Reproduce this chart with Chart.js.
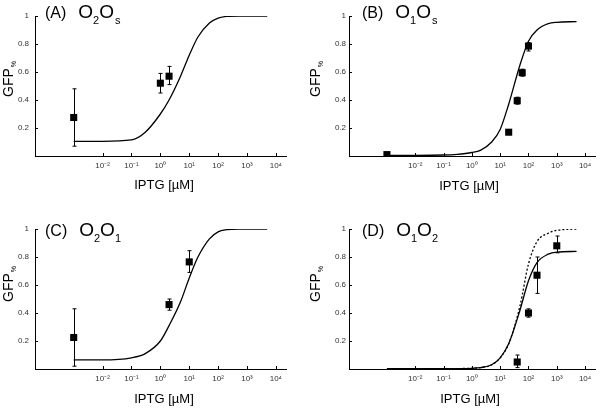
<!DOCTYPE html>
<html>
<head>
<meta charset="utf-8">
<script src="https://cdn.jsdelivr.net/npm/chart.js@4"></script>
<style>
  html, body { margin: 0; padding: 0; background: #fff; overflow: hidden; }
  #wrap { position: relative; width: 600px; height: 410px; }
  canvas { position: absolute; }
</style>
</head>
<body>
<div id="wrap">
  <canvas id="pA" width="300" height="205" style="left:0;top:0"></canvas>
  <canvas id="pB" width="300" height="205" style="left:300px;top:0"></canvas>
  <canvas id="pC" width="300" height="205" style="left:0;top:205px"></canvas>
  <canvas id="pD" width="300" height="205" style="left:300px;top:205px"></canvas>
</div>
<script>
'use strict';

// ejes
const X_TICKS  = [1e-2, 1e-1, 1, 1e1, 1e2, 1e3, 1e4];
const X_LABELS = ['10⁻²', '10⁻¹', '10⁰', '10¹', '10²', '10³', '10⁴'];
const Y_TICKS  = [0.2, 0.4, 0.6, 0.8, 1];
const Y_LABELS = ['0.2', '0.4', '0.6', '0.8', '1'];
const X_MIN = Math.pow(10, -4.34), X_MAX = Math.pow(10, 4.35);

// curvas del modelo
const CURVE_X = [1e-3, 1e-2, 1e-1, 0.3, 1, 2, 5, 10, 20, 50, 100, 200, 500, 1000, 5000];
const A_FIT = [0.105, 0.105, 0.115, 0.17, 0.30, 0.40, 0.57, 0.72, 0.85, 0.95, 0.985, 0.997, 1, 1, 1];
const B_FIT = [0.005, 0.005, 0.007, 0.012, 0.025, 0.04, 0.10, 0.19, 0.37, 0.65, 0.82, 0.90, 0.945, 0.955, 0.96];
const C_FIT = [0.065, 0.065, 0.08, 0.11, 0.20, 0.31, 0.48, 0.65, 0.80, 0.93, 0.98, 0.995, 1, 1, 1];
const D_FIT = [0.002, 0.002, 0.002, 0.003, 0.005, 0.01, 0.03, 0.08, 0.18, 0.42, 0.63, 0.76, 0.82, 0.835, 0.84];
const D_FIT_DOT = [0.002, 0.002, 0.002, 0.003, 0.005, 0.01, 0.03, 0.08, 0.18, 0.45, 0.75, 0.91, 0.97, 0.99, 1.0];

// datos medidos (0 µM IPTG dibujado en 10^-3)
const A_X = [1e-3, 1, 2],            A_Y = [0.275, 0.52, 0.57];
const A_LO = [0.07, 0.45, 0.51],     A_HI = [0.48, 0.59, 0.64];
const B_X = [1e-3, 20, 40, 60, 100], B_Y = [0.01, 0.17, 0.395, 0.595, 0.785];
const B_LO = [null, null, 0.37, 0.57, 0.75], B_HI = [null, null, 0.42, 0.62, 0.81];
const C_X = [1e-3, 2, 10],           C_Y = [0.225, 0.46, 0.765];
const C_LO = [0.02, 0.42, 0.69],     C_HI = [0.43, 0.50, 0.845];
const D_X = [40, 100, 200, 1000],    D_Y = [0.05, 0.40, 0.67, 0.88];
const D_LO = [0.01, 0.37, 0.54, 0.83], D_HI = [0.10, 0.43, 0.80, 0.95];

Chart.defaults.font.family = "'Liberation Sans', Arial, sans-serif";
Chart.defaults.color = '#222';

const pts = (xs, ys) => xs.map((x, i) => ({ x, y: ys[i] }));

// ticks hacia dentro, barras de error y textos
const decor = {
  id: 'decor',
  beforeDatasetsDraw(chart) {
    const ctx = chart.ctx, sx = chart.scales.x, sy = chart.scales.y;
    ctx.save();
    ctx.strokeStyle = '#000';
    ctx.lineWidth = 1;
    chart.data.datasets.forEach(ds => {
      if (!ds.lo) return;
      ds.data.forEach((p, i) => {
        if (ds.lo[i] == null) return;
        const x = Math.round(sx.getPixelForValue(p.x)) + 0.5;
        const y1 = sy.getPixelForValue(ds.lo[i]), y2 = sy.getPixelForValue(ds.hi[i]);
        ctx.beginPath();
        ctx.moveTo(x, y1); ctx.lineTo(x, y2);
        ctx.moveTo(x - 2, y1); ctx.lineTo(x + 2, y1);
        ctx.moveTo(x - 2, y2); ctx.lineTo(x + 2, y2);
        ctx.stroke();
      });
    });
    ctx.restore();
  },
  afterDraw(chart, args, p) {
    const ctx = chart.ctx, sx = chart.scales.x, sy = chart.scales.y;
    const a = chart.chartArea;
    ctx.save();
    ctx.strokeStyle = '#000';
    ctx.lineWidth = 1;
    ctx.beginPath();
    sx.ticks.forEach(t => {
      const x = Math.round(sx.getPixelForValue(t.value)) + 0.5;
      ctx.moveTo(x, a.bottom); ctx.lineTo(x, a.bottom - 3);
    });
    sy.ticks.forEach(t => {
      const y = Math.round(sy.getPixelForValue(t.value)) + 0.5;
      ctx.moveTo(a.left, y); ctx.lineTo(a.left + 3, y);
    });
    ctx.stroke();

    ctx.fillStyle = '#000';
    ctx.textBaseline = 'alphabetic';
    ctx.textAlign = 'left';
    // título del panel
    let x = p.titleX;
    p.title.forEach(([t, size, gap, dy]) => {
      x += gap;
      ctx.font = size + "px 'Liberation Sans', Arial, sans-serif";
      ctx.fillText(t, x, p.titleY + dy);
      x += ctx.measureText(t).width;
    });
    // eje x
    ctx.textAlign = 'center';
    ctx.font = "13px 'Liberation Sans', Arial, sans-serif";
    ctx.fillText('IPTG [µM]', p.xTitleX, p.xTitleY);
    // eje y
    ctx.translate(p.yTitleX, 97);
    ctx.rotate(-Math.PI / 2);
    ctx.textAlign = 'left';
    ctx.font = "14px 'Liberation Sans', Arial, sans-serif";
    ctx.fillText('GFP', 0, 0);
    const w = ctx.measureText('GFP').width;
    ctx.font = "7px 'Liberation Sans', Arial, sans-serif";
    ctx.fillText('%', w + 1, 3);
    ctx.restore();
  }
};

function makePanel(id, p, datasets) {
  return new Chart(document.getElementById(id), {
    type: 'line',
    data: { datasets },
    options: {
      responsive: false, animation: false, devicePixelRatio: 1,
      layout: { padding: { top: p.top, right: p.right, left: 0, bottom: 0 } },
      plugins: { legend: { display: false }, tooltip: { enabled: false }, decor: p },
      scales: {
        x: {
          type: 'logarithmic', min: X_MIN, max: X_MAX,
          grid: { display: false, drawTicks: false },
          border: { color: '#000', width: 1 },
          afterBuildTicks: s => { s.ticks = X_TICKS.map(v => ({ value: v })); },
          afterFit: s => { s.height = p.xh; },
          ticks: { padding: 5, color: '#333', font: { size: 8 }, maxRotation: 0, autoSkip: false,
                   callback: (v, i) => X_LABELS[i] },
        },
        y: {
          min: 0, max: 1,
          grid: { display: false, drawTicks: false },
          border: { color: '#000', width: 1 },
          afterBuildTicks: s => { s.ticks = Y_TICKS.map(v => ({ value: v })); },
          afterFit: s => { s.width = p.yw; },
          ticks: { padding: p.tickPad, color: '#333', font: { size: 8 },
                   callback: (v, i) => Y_LABELS[i] },
        },
      },
    },
    plugins: [decor],
  });
}

const fit = (ys, dash) => ({
  data: pts(CURVE_X, ys), borderColor: '#000', borderWidth: 1.3,
  borderDash: dash || [], pointRadius: 0, cubicInterpolationMode: 'monotone', fill: false,
});
const meas = (xs, ys, lo, hi) => ({
  data: pts(xs, ys), lo, hi, showLine: false,
  pointStyle: 'rect', pointRadius: 5, pointBackgroundColor: '#000', pointBorderWidth: 0,
});

makePanel('pA', { top: 16, right: 14, yw: 35, xh: 49, tickPad: 6, yTitleX: 13,
  xTitleX: 164, xTitleY: 189, titleX: 45, titleY: 18,
  title: [['(A)', 16, 0, 0], ['O', 19, 12, 0], ['2', 11, 0, 6], ['O', 19, 0, 0], ['s', 11, 1, 6]] },
  [meas(A_X, A_Y, A_LO, A_HI), fit(A_FIT)]);

makePanel('pB', { top: 16, right: 1, yw: 49, xh: 49, tickPad: 3, yTitleX: 20,
  xTitleX: 169, xTitleY: 190, titleX: 62, titleY: 18,
  title: [['(B)', 16, 0, 0], ['O', 19, 12, 0], ['1', 11, 0, 6], ['O', 19, 0, 0], ['s', 11, 1, 6]] },
  [meas(B_X, B_Y, B_LO, B_HI), fit(B_FIT)]);

makePanel('pC', { top: 24, right: 14, yw: 35, xh: 41, tickPad: 6, yTitleX: 13,
  xTitleX: 164, xTitleY: 198, titleX: 45, titleY: 31,
  title: [['(C)', 16, 0, 0], ['O', 19, 12, 0], ['2', 11, 0, 6], ['O', 19, 0, 0], ['1', 11, 0, 6]] },
  [meas(C_X, C_Y, C_LO, C_HI), fit(C_FIT)]);

makePanel('pD', { top: 24, right: 1, yw: 49, xh: 41, tickPad: 3, yTitleX: 20,
  xTitleX: 170, xTitleY: 198, titleX: 62, titleY: 31,
  title: [['(D)', 16, 0, 0], ['O', 19, 12, 0], ['1', 11, 0, 6], ['O', 19, 0, 0], ['2', 11, 0, 6]] },
  [meas(D_X, D_Y, D_LO, D_HI), fit(D_FIT_DOT, [2, 2]), fit(D_FIT)]);
</script>
</body>
</html>
